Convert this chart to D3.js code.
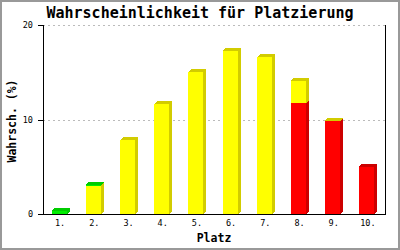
<!DOCTYPE html>
<html>
<head>
<meta charset="utf-8">
<script src="https://cdn.jsdelivr.net/npm/d3@7"></script>
<style>
  body { margin: 0; background: #fff; }
  text { font-family: "DejaVu Sans Mono", monospace; }
  path, rect, line { shape-rendering: crispEdges; }
</style>
</head>
<body>
<div id="chart"></div>
<script>
// Data (stacked: red at bottom, then yellow, then green)
const places = ["1.", "2.", "3.", "4.", "5.", "6.", "7.", "8.", "9.", "10."];
const redValues = [0, 0, 0, 0, 0, 0, 0, 11.7, 9.8, 5.0];
const yellowValues = [0, 3.0, 7.8, 11.6, 15.0, 17.3, 16.6, 2.4, 0.05, 0];
const greenValues = [0.35, 0.1, 0, 0, 0, 0, 0, 0, 0, 0];
const yTicks = [0, 10, 20];

const series = [
    { values: redValues, front: "#ff0000", side: "#cc0000" },
    { values: yellowValues, front: "#ffff00", side: "#d2cc00" },
    { values: greenValues, front: "#00ee00", side: "#00cc00" }
];

const width = 400, height = 250;
const margin = { top: 25, right: 15, bottom: 36, left: 43 };
const depth = 3, barW = 15;

const svg = d3.select("#chart")
    .append("svg")
    .attr("width", width)
    .attr("height", height);

// outer frame
svg.append("rect")
    .attr("x", 1).attr("y", 1)
    .attr("width", width - 2).attr("height", height - 2)
    .attr("fill", "#fff")
    .attr("stroke", "#999")
    .attr("stroke-width", 2);

const x = d3.scaleBand()
    .domain(places)
    .range([margin.left, width - margin.right]);

const y = d3.scaleLinear()
    .domain([0, 20])
    .range([height - margin.bottom, margin.top]);

// grid lines
svg.append("g")
    .selectAll("line")
    .data(yTicks.filter(d => d > 0))
    .join("line")
    .attr("x1", margin.left)
    .attr("x2", width - margin.right)
    .attr("y1", d => y(d) + 0.5)
    .attr("y2", d => y(d) + 0.5)
    .attr("stroke", "#bbb")
    .attr("stroke-dasharray", "2,3");

// stacked 3D bars
places.forEach((p, i) => {
    let base = 0;
    series.forEach(s => {
        const v = s.values[i];
        if (v <= 0) return;
        const x0 = Math.round(x(p) + x.bandwidth() / 2 - barW / 2 - 1);
        const x1 = x0 + barW;
        const yb = y(base);
        const yt = y(base + v);
        // side face
        svg.append("path")
            .attr("d", `M${x1},${yb}L${x1 + depth},${yb - depth}L${x1 + depth},${yt - depth}L${x1},${yt}Z`)
            .attr("fill", s.side);
        // top face
        svg.append("path")
            .attr("d", `M${x0},${yt}L${x0 + depth},${yt - depth}L${x1 + depth},${yt - depth}L${x1},${yt}Z`)
            .attr("fill", s.side);
        // front face
        svg.append("rect")
            .attr("x", x0).attr("y", yt)
            .attr("width", barW).attr("height", yb - yt)
            .attr("fill", s.front);
        base += v;
    });
});

// axes
const yAxis = svg.append("g")
    .attr("transform", `translate(${margin.left},0)`)
    .call(d3.axisLeft(y).tickValues(yTicks).tickSize(5).tickPadding(5));
yAxis.selectAll("text").attr("font-size", 8.5).attr("font-family", "DejaVu Sans Mono");

const xAxis = svg.append("g")
    .attr("transform", `translate(0,${height - margin.bottom})`)
    .call(d3.axisBottom(x).tickSize(0).tickPadding(6).tickSizeOuter(0));
xAxis.selectAll("text").attr("font-size", 8.5).attr("font-family", "DejaVu Sans Mono");
svg.selectAll(".domain").attr("stroke", "#000");

// right border line of plot area
svg.append("line")
    .attr("x1", width - margin.right + 0.5)
    .attr("x2", width - margin.right + 0.5)
    .attr("y1", margin.top)
    .attr("y2", height - margin.bottom)
    .attr("stroke", "#000");

// title
svg.append("text")
    .attr("x", 200)
    .attr("y", 18)
    .attr("text-anchor", "middle")
    .attr("font-size", 15)
    .attr("font-weight", "bold")
    .text("Wahrscheinlichkeit für Platzierung");

// axis titles
svg.append("text")
    .attr("x", 214)
    .attr("y", 242)
    .attr("text-anchor", "middle")
    .attr("font-size", 11.5)
    .attr("font-weight", "bold")
    .text("Platz");

svg.append("text")
    .attr("transform", "translate(16,121) rotate(-90)")
    .attr("text-anchor", "middle")
    .attr("font-size", 11.5)
    .attr("font-weight", "bold")
    .text("Wahrsch. (%)");
</script>
</body>
</html>
